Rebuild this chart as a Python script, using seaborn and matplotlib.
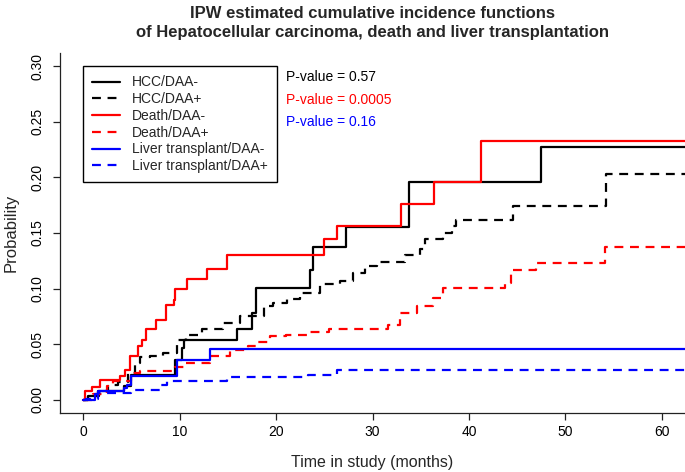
import pandas as pd
import matplotlib
matplotlib.use('Agg')
import matplotlib.pyplot as plt
import seaborn as sns

# IPW cumulative incidence step curves
# (time in months, probability); each curve jumps at the listed times
hcc_neg_t = [0, 0.55, 1.6, 4.2, 5.0, 9.5, 10.2, 10.5, 16.0, 17.5, 17.9, 23.5, 23.8, 27.3, 33.8, 47.5]
hcc_neg_p = [0, 0.003, 0.008, 0.0126, 0.0224, 0.036, 0.0466, 0.054, 0.064, 0.078, 0.1003, 0.117, 0.137,
             0.1556, 0.196, 0.227]

hcc_pos_t = [0, 0.5, 1.5, 2.6, 3.6, 4.7, 5.4, 5.9, 6.9, 8.3, 9.7, 10.7, 12.3, 14.5, 16.3, 18.7, 19.7, 21.1,
             22.5, 24.6, 26.6, 28.0, 29.2, 30.5, 33.4, 34.9, 35.4, 37.3, 38.2, 38.7, 44.6, 54.2]
hcc_pos_p = [0, 0.003, 0.008, 0.0135, 0.016, 0.024, 0.033, 0.038, 0.039, 0.042, 0.054, 0.058, 0.064, 0.069,
             0.075, 0.084, 0.087, 0.091, 0.096, 0.104, 0.107, 0.114, 0.120, 0.124, 0.130, 0.136, 0.145,
             0.150, 0.156, 0.1616, 0.174, 0.2035]

death_neg_t = [0, 0.2, 0.9, 1.7, 3.8, 4.35, 4.9, 5.7, 6.1, 6.5, 7.6, 8.6, 9.4, 9.5, 10.8, 12.8, 14.9, 25.0,
               26.3, 33.0, 36.4, 41.3]
death_neg_p = [0, 0.0075, 0.0114, 0.018, 0.021, 0.027, 0.039, 0.048, 0.054, 0.064, 0.072, 0.085, 0.0898,
               0.0994, 0.109, 0.118, 0.130, 0.145, 0.1565, 0.176, 0.196, 0.233]

death_pos_t = [0, 1.0, 2.5, 3.1, 5.0, 5.9, 9.5, 10.6, 13.2, 15.2, 17.1, 18.1, 19.4, 21.0, 23.2, 25.5, 31.6,
               32.8, 34.6, 36.3, 37.3, 43.7, 44.4, 47.0, 54.1]
death_pos_p = [0, 0.005, 0.012, 0.0165, 0.024, 0.0254, 0.029, 0.033, 0.039, 0.045, 0.048, 0.052, 0.057,
               0.058, 0.061, 0.0637, 0.067, 0.078, 0.084, 0.0915, 0.1005, 0.105, 0.117, 0.123, 0.137]

lt_neg_t = [0, 1.25, 1.55, 4.2, 4.5, 5.0, 9.7, 13.2]
lt_neg_p = [0, 0.0054, 0.0075, 0.0105, 0.0135, 0.021, 0.036, 0.0455]

lt_pos_t = [0, 0.3, 1.5, 5.0, 8.0, 8.7, 14.9, 23.3, 26.3]
lt_pos_p = [0, 0.001, 0.006, 0.009, 0.0135, 0.017, 0.020, 0.0224, 0.0263]

follow_up_end = 64  # last value is carried to the end of follow-up

labels = ['HCC/DAA-', 'HCC/DAA+', 'Death/DAA-', 'Death/DAA+',
          'Liver transplant/DAA-', 'Liver transplant/DAA+']
p_values = ['0.57', '0.0005', '0.16']

curves = [(hcc_neg_t, hcc_neg_p), (hcc_pos_t, hcc_pos_p),
          (death_neg_t, death_neg_p), (death_pos_t, death_pos_p),
          (lt_neg_t, lt_neg_p), (lt_pos_t, lt_pos_p)]
colors = ['black', 'black', '#FF0000', '#FF0000', '#0000FF', '#0000FF']
dashed = (0, (4, 3))
styles = ['-', dashed, '-', dashed, '-', dashed]

sns.set_theme(style='ticks')
plt.rcParams['font.family'] = ['Liberation Sans', 'DejaVu Sans']

fig = plt.figure(figsize=(6.85, 4.72), dpi=100)
ax = fig.add_axes([60 / 685, 1 - 413 / 472, 625 / 685, 360 / 472])

for (t, p), lab, col, ls in zip(curves, labels, colors, styles):
    df = pd.DataFrame({'time': t + [follow_up_end], 'prob': p + [p[-1]]})
    sns.lineplot(data=df, x='time', y='prob', estimator=None, sort=False,
                 drawstyle='steps-post', color=col, linestyle=ls, linewidth=1.6,
                 label=lab, ax=ax)

ax.set_xlim(-2.4, 62.4)
ax.set_ylim(-0.012, 0.312)
ax.set_xticks(range(0, 61, 10))
ax.set_yticks([0, 0.05, 0.10, 0.15, 0.20, 0.25, 0.30])
ax.set_yticklabels(['0.00', '0.05', '0.10', '0.15', '0.20', '0.25', '0.30'],
                   rotation=90, va='center')
ax.tick_params(axis='both', length=5, width=0.9, colors='#222222', labelcolor='black',
               labelsize=10)
ax.tick_params(axis='x', pad=4)
ax.tick_params(axis='y', pad=6)
sns.despine(ax=ax)
for sp in ['left', 'bottom']:
    ax.spines[sp].set_linewidth(0.9)
    ax.spines[sp].set_color('#222222')

ax.set_xlabel('Time in study (months)', fontsize=11.5)
ax.set_ylabel('Probability', fontsize=12)
ax.xaxis.set_label_coords(0.5, -0.117)
ax.yaxis.set_label_coords(-0.066, 0.5)

leg = ax.legend(loc='upper left', bbox_to_anchor=(0, 0.30), bbox_transform=ax.transData,
                borderaxespad=0, fontsize=10, frameon=True, fancybox=False,
                handlelength=2.0, handletextpad=0.85, labelspacing=0.2,
                borderpad=0.65)
leg.get_frame().set_edgecolor('black')
leg.get_frame().set_linewidth(1.0)
leg.get_frame().set_alpha(1)

for i, (pv, col) in enumerate(zip(p_values, ['black', '#FF0000', '#0000FF'])):
    ax.text(21.0, 0.290 - 0.0202 * i, f'P-value = {pv}', color=col, fontsize=10,
            ha='left', va='center')

fig.text(372.5 / 685, 1 - 13 / 472, 'IPW estimated cumulative incidence functions',
         ha='center', va='center', fontsize=12, fontweight='bold')
fig.text(372.5 / 685, 1 - 32 / 472, 'of Hepatocellular carcinoma, death and liver transplantation',
         ha='center', va='center', fontsize=12, fontweight='bold')

fig.savefig('out.png', dpi=100)
